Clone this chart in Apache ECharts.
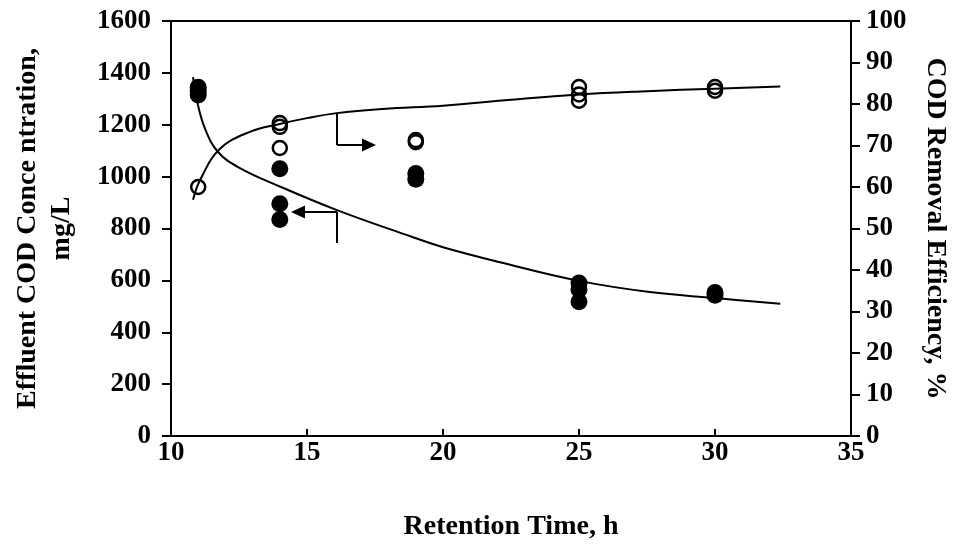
<!DOCTYPE html>
<html>
<head>
<meta charset="utf-8">
<script src="https://cdn.jsdelivr.net/npm/echarts@6/dist/echarts.min.js"></script>
<style>html,body{margin:0;padding:0;background:#fff}#c{width:958px;height:546px}</style>
</head>
<body>
<div id="c"></div>
<script>
// Effluent COD concentration (mg/L), filled markers, left axis
const codTime = [11, 11, 11, 14, 14, 14, 19, 19, 25, 25, 25, 30, 30];
const codValues = [1345, 1330, 1315, 1030, 895, 835, 1012, 990, 590, 565, 518, 553, 543];
// COD removal efficiency (%), open markers, right axis
const effTime = [11, 14, 14, 14, 19, 19, 25, 25, 25, 30, 30];
const effValues = [60, 75.4, 74.5, 69.4, 71.3, 70.8, 84.1, 82.3, 80.8, 84.1, 83.2];
// Fitted curves
const codCurveX = [10.81, 10.96, 11.25, 11.73, 12.5, 14.0, 16.1, 18.8, 20.0, 22.1, 25.0, 27.6, 30.0, 32.4];
const codCurveY = [1384, 1290, 1185, 1095, 1035, 962, 871, 770, 728, 670, 598, 555, 532, 510];
const effCurveX = [10.81, 11.07, 11.8, 12.9, 14.0, 15.0, 16.1, 17.8, 20.0, 22.5, 25.0, 27.5, 30.0, 32.4];
const effCurveY = [56.9, 61.7, 69.2, 73.3, 75.2, 76.6, 77.8, 78.8, 79.6, 81.0, 82.3, 83.1, 83.7, 84.2];
// Axis tick settings
const xTicks = {min: 10, max: 35, interval: 5};
const leftTicks = {min: 0, max: 1600, interval: 200};
const rightTicks = {min: 0, max: 100, interval: 10};
// Arrow annotations (data coordinates)
const arrowUpper = {x: 16.1, yTop: 77.8, yBend: 70.1, xTip: 17.28};   // right axis
const arrowLower = {x: 16.1, yBottom: 744, yBend: 864, xTip: 14.67};  // left axis

const FONT = 'Liberation Serif';
const pair = (xs, ys) => xs.map((x, i) => [x, ys[i]]);
const tickStyle = {fontFamily: FONT, fontWeight: 'bold', fontSize: 27, color: '#000'};
const titleStyle = {fontFamily: FONT, fontWeight: 'bold', fontSize: 28, color: '#000'};
const axisLine = {show: true, lineStyle: {color: '#000', width: 2}};
const axisTick = {show: true, inside: false, length: 9, lineStyle: {color: '#000', width: 2}};
const xAxisTick = {show: true, inside: true, length: 7, lineStyle: {color: '#000', width: 2}};
const plain = v => String(v);

const chart = echarts.init(document.getElementById('c'), null, {renderer: 'canvas'});
chart.setOption({
  animation: false,
  backgroundColor: '#fff',
  grid: {left: 171, right: 107, top: 21, bottom: 110, containLabel: false, outerBoundsMode: 'none',
         show: true, borderColor: '#000', borderWidth: 2, backgroundColor: 'transparent'},
  xAxis: {
    type: 'value', min: xTicks.min, max: xTicks.max, interval: xTicks.interval,
    axisLine, axisTick: xAxisTick, splitLine: {show: false},
    axisLabel: Object.assign({margin: 4, formatter: plain}, tickStyle),
    name: 'Retention Time, h', nameLocation: 'middle', nameGap: 77,
    nameTextStyle: Object.assign({}, titleStyle)
  },
  yAxis: [{
    type: 'value', position: 'left', min: leftTicks.min, max: leftTicks.max, interval: leftTicks.interval,
    axisLine, axisTick, splitLine: {show: false},
    axisLabel: Object.assign({margin: 20, formatter: plain}, tickStyle),
    name: 'Effluent COD Conce ntration,\nmg/L', nameLocation: 'middle', nameGap: 92, nameRotate: 90,
    nameTextStyle: Object.assign({lineHeight: 34}, titleStyle)
  }, {
    type: 'value', position: 'right', min: rightTicks.min, max: rightTicks.max, interval: rightTicks.interval,
    axisLine, axisTick, splitLine: {show: false},
    axisLabel: Object.assign({margin: 15, formatter: plain}, tickStyle),
    name: 'COD Removal Efficiency, %', nameLocation: 'middle', nameGap: 70, nameRotate: -90,
    nameTextStyle: Object.assign({}, titleStyle)
  }],
  series: [{
    type: 'line', yAxisIndex: 0, data: pair(codCurveX, codCurveY), smooth: 0.4,
    showSymbol: false, silent: true, lineStyle: {color: '#000', width: 2},
    markLine: {
      silent: true, animation: false, label: {show: false},
      lineStyle: {color: '#000', width: 2, type: 'solid'},
      symbolSize: [13, 14],
      data: [
        [{coord: [arrowLower.x, arrowLower.yBottom], symbol: 'none'}, {coord: [arrowLower.x, arrowLower.yBend], symbol: 'none'}],
        [{coord: [arrowLower.x, arrowLower.yBend], symbol: 'none'}, {coord: [arrowLower.xTip, arrowLower.yBend], symbol: 'triangle'}]
      ]
    }
  }, {
    type: 'line', yAxisIndex: 1, data: pair(effCurveX, effCurveY), smooth: 0.4,
    showSymbol: false, silent: true, lineStyle: {color: '#000', width: 2},
    markLine: {
      silent: true, animation: false, label: {show: false},
      lineStyle: {color: '#000', width: 2, type: 'solid'},
      symbolSize: [13, 14],
      data: [
        [{coord: [arrowUpper.x, arrowUpper.yTop], symbol: 'none'}, {coord: [arrowUpper.x, arrowUpper.yBend], symbol: 'none'}],
        [{coord: [arrowUpper.x, arrowUpper.yBend], symbol: 'none'}, {coord: [arrowUpper.xTip, arrowUpper.yBend], symbol: 'triangle'}]
      ]
    }
  }, {
    type: 'scatter', yAxisIndex: 0, data: pair(codTime, codValues),
    symbol: 'circle', symbolSize: 17, silent: true,
    itemStyle: {color: '#000', borderColor: '#000', borderWidth: 0, opacity: 1}
  }, {
    type: 'scatter', yAxisIndex: 1, data: pair(effTime, effValues),
    symbol: 'circle', symbolSize: 14, silent: true,
    itemStyle: {color: 'rgba(0,0,0,0)', borderColor: '#000', borderWidth: 2.5, opacity: 1}
  }]
});
</script>
</body>
</html>
